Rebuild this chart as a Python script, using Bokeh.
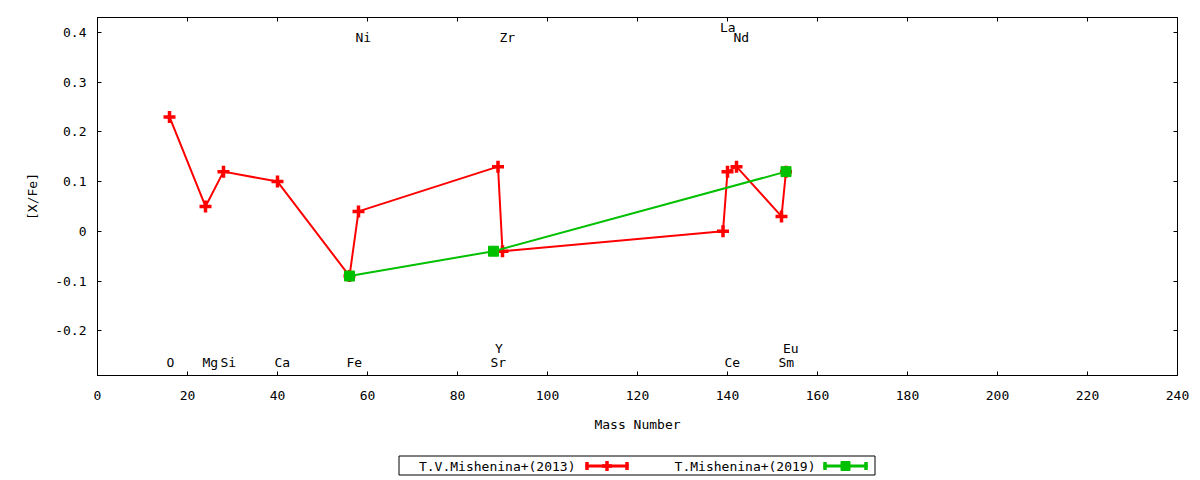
from bokeh.plotting import figure
from bokeh.models import (Range1d, LinearAxis, SingleIntervalTicker,
                          CustomJSTickFormatter, ColumnDataSource)
from bokeh.layouts import column
from bokeh.core.properties import value
from bokeh.embed import file_html
from bokeh.resources import INLINE

# ---------------- data ----------------
elements = ["O", "Mg", "Si", "Ca", "Fe", "Ni", "Sr", "Y", "Zr", "La", "Ce", "Nd", "Sm", "Eu"]
element_mass = [16, 24, 28, 40, 56, 58, 88, 89, 90, 139, 140, 142, 152, 153]
element_row = ["b", "b", "b", "b", "b", "t", "b", "b2", "t", "t2", "b", "t", "b", "b2"]

mass_2013 = [16, 24, 28, 40, 56, 58, 89, 90, 139, 140, 142, 152, 153]
xfe_2013 = [0.23, 0.05, 0.12, 0.10, -0.09, 0.04, 0.13, -0.04, 0.00, 0.12, 0.13, 0.03, 0.12]

mass_2019 = [56, 88, 153]
xfe_2019 = [-0.09, -0.04, 0.12]

series_names = ["T.V.Mishenina+(2013)", "T.Mishenina+(2019)"]
series_colors = ["#ff0000", "#00c000"]

x_ticks_step = 20
y_ticks_step = 0.1

FONT_NAME = "DejaVu Sans Mono"
FONT = value(FONT_NAME)
FS = "13px"

# ---------------- main figure ----------------
FL, FR = 97, 1177   # frame edges in page pixels
MH = 436
p = figure(width=1192, height=MH,
           x_range=Range1d(0, 240), y_range=Range1d(-0.29, 0.43),
           output_backend="svg", toolbar_location=None,
           min_border_left=FL, min_border_right=1192 - FR,
           min_border_top=17, min_border_bottom=MH - 17 - 358)
p.xgrid.visible = False
p.ygrid.visible = False
p.outline_line_color = "black"
p.outline_line_width = 1
p.background_fill_color = "white"
p.border_fill_color = "white"

xt = SingleIntervalTicker(interval=x_ticks_step)
yt = SingleIntervalTicker(interval=y_ticks_step)
yfmt = CustomJSTickFormatter(code="return Number(tick.toFixed(1)).toString();")

for ax in p.xaxis:
    ax.ticker = xt
for ax in p.yaxis:
    ax.ticker = yt
    ax.formatter = yfmt

for ax in list(p.xaxis) + list(p.yaxis):
    ax.major_tick_in = 4
    ax.major_tick_out = 0
    ax.minor_tick_line_color = None
    ax.axis_line_color = "black"
    ax.major_tick_line_color = "black"
    ax.major_label_text_font = FONT_NAME
    ax.major_label_text_font_size = FS
    ax.major_label_text_color = "black"
    ax.axis_label_text_font = FONT_NAME
    ax.axis_label_text_font_size = FS
    ax.axis_label_text_font_style = "normal"
    ax.axis_label_text_color = "black"

p.xaxis.axis_label = "Mass Number"
p.xaxis.major_label_standoff = 11
p.xaxis.axis_label_standoff = 14
p.yaxis.axis_label = "[X/Fe]"
p.yaxis.major_label_standoff = 7
p.yaxis.axis_label_standoff = 12

# mirrored tick axes (top, right)
empty = CustomJSTickFormatter(code="return '';")
top_ax = LinearAxis(ticker=SingleIntervalTicker(interval=x_ticks_step), formatter=empty)
right_ax = LinearAxis(ticker=SingleIntervalTicker(interval=y_ticks_step), formatter=empty)
for ax in (top_ax, right_ax):
    ax.major_tick_in = 4
    ax.major_tick_out = 0
    ax.minor_tick_line_color = None
    ax.major_label_standoff = 0
    ax.major_label_text_font_size = "0px"
    ax.axis_line_color = "black"
p.add_layout(top_ax, "above")
p.add_layout(right_ax, "right")

# series 2013 (red)
src13 = ColumnDataSource(dict(x=mass_2013, y=xfe_2013))
p.line("x", "y", source=src13, line_color=series_colors[0], line_width=2)
p.scatter("x", "y", source=src13, marker="cross", size=12,
          line_color=series_colors[0], line_width=3.5)

# series 2019 (green)
src19 = ColumnDataSource(dict(x=mass_2019, y=xfe_2019))
p.line("x", "y", source=src19, line_color=series_colors[1], line_width=2)
p.scatter("x", "y", source=src19, marker="square", size=10,
          fill_color=series_colors[1], line_color=series_colors[1])

# element labels
row_y = {"b": -0.264, "b2": -0.236, "t": 0.39, "t2": 0.409}
lab = ColumnDataSource(dict(x=element_mass, y=[row_y[r] for r in element_row], t=elements))
p.text("x", "y", text="t", source=lab, text_font=FONT, text_font_size=FS,
       text_align="left", text_baseline="middle", x_offset=-3, text_color="black")

# ---------------- legend figure (coordinates = page pixels) ----------------
LH = 44
lg = figure(width=1192, height=LH, x_range=Range1d(FL, FR), y_range=Range1d(0, LH),
            x_axis_type=None, y_axis_type=None,
            output_backend="svg", toolbar_location=None,
            min_border=0, min_border_left=FL, min_border_right=1192 - FR,
            min_border_top=0, min_border_bottom=0)
lg.xgrid.visible = False
lg.ygrid.visible = False
lg.outline_line_color = None

ymid = 14.5
lg.quad(left=[398.5], right=[874.5], bottom=[5.5], top=[24.5],
        fill_color=None, line_color="black", line_width=1)

entry_text_right = [575, 815]
entry_sample = [(585, 628), (823, 867)]
for name, col, tr, (a, b) in zip(series_names, series_colors, entry_text_right, entry_sample):
    lg.text([tr], [ymid], text=[name], text_font=FONT, text_font_size=FS,
            text_align="right", text_baseline="middle", text_color="black")
    lg.segment(x0=[a], y0=[ymid], x1=[b], y1=[ymid], line_color=col, line_width=3)
    lg.segment(x0=[a + 1.5, b - 1.5], y0=[ymid - 4, ymid - 4],
               x1=[a + 1.5, b - 1.5], y1=[ymid + 4, ymid + 4],
               line_color=col, line_width=3.5)
    mid = (a + b) / 2
    if col == series_colors[0]:
        lg.scatter([mid], [ymid], marker="cross", size=10, line_color=col, line_width=3.5)
    else:
        lg.scatter([mid], [ymid], marker="square", size=9, fill_color=col, line_color=col)

layout = column(p, lg, spacing=0)
open("out.html", "w").write(file_html(layout, INLINE))
